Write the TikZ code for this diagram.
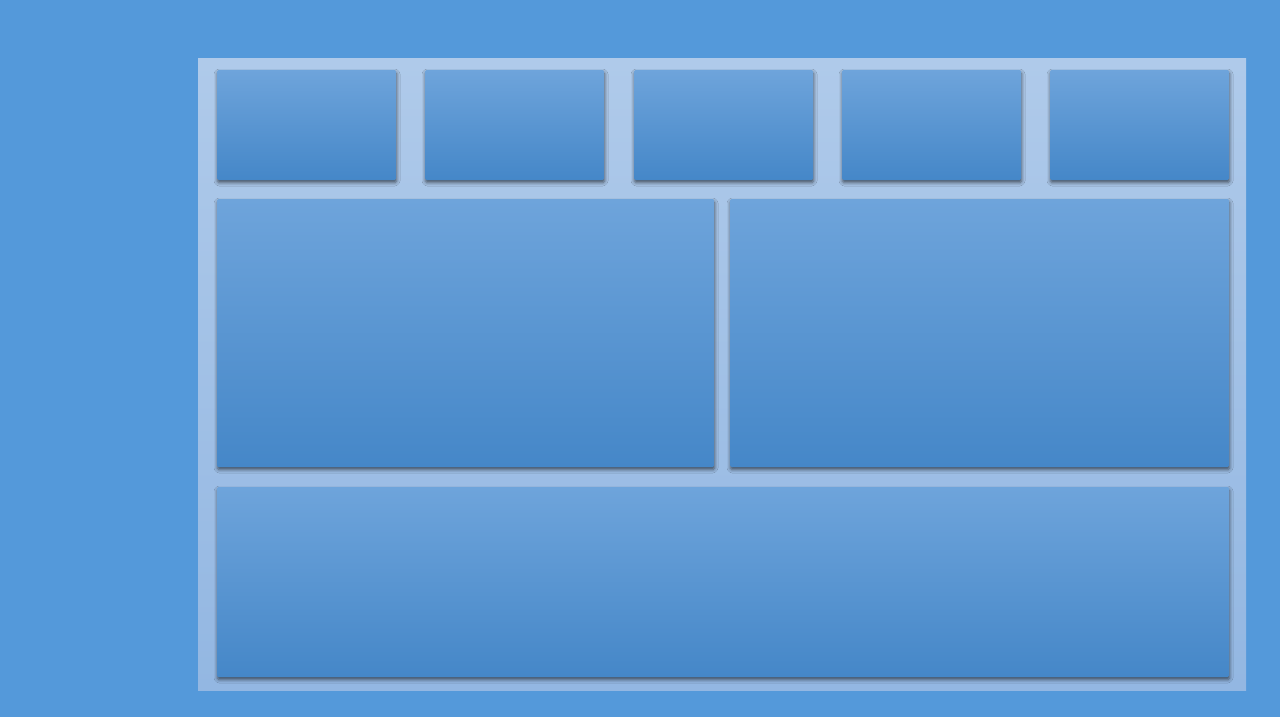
\documentclass[tikz,border=0pt]{standalone}
\usetikzlibrary{shadows.blur}
\definecolor{bgblue}{HTML}{5499DA}
\definecolor{paneltop}{HTML}{AFCAEA}
\definecolor{panelbot}{HTML}{93B7E2}
\definecolor{cardtop}{HTML}{6EA4DB}
\definecolor{cardmid}{HTML}{559CE0}
\definecolor{cardbot}{HTML}{4587C8}
\tikzset{
  card/.style={rectangle, anchor=north west, inner sep=0pt, outer sep=0pt,
    rounded corners=1.5pt, top color=cardtop, middle color=cardmid, bottom color=cardbot,
    blur shadow={shadow xshift=0.5pt, shadow yshift=-2.5pt, shadow blur radius=3.5pt, shadow opacity=60}},
  panel/.style={rectangle, anchor=north west, inner sep=0pt, outer sep=0pt,
    top color=paneltop, bottom color=panelbot}
}
\begin{document}
\begin{tikzpicture}[x=1pt,y=-1pt]
\fill[bgblue] (0,0) rectangle (1280,717);
\useasboundingbox (0,0) rectangle (1280,717);
\node[panel, minimum width=1048pt, minimum height=631pt] (panel) at (198,59) {};
% top row
\node[card, minimum width=179pt, minimum height=110pt] (t1) at (217,70) {};
\node[card, minimum width=179pt, minimum height=110pt] (t2) at (425,70) {};
\node[card, minimum width=179pt, minimum height=110pt] (t3) at (634,70) {};
\node[card, minimum width=179pt, minimum height=110pt] (t4) at (842,70) {};
\node[card, minimum width=179pt, minimum height=110pt] (t5) at (1050,70) {};
% middle row
\node[card, minimum width=497pt, minimum height=268pt] (m1) at (217,199) {};
\node[card, minimum width=499pt, minimum height=268pt] (m2) at (730,199) {};
% bottom
\node[card, minimum width=1012pt, minimum height=190pt] (b1) at (217,487) {};
\end{tikzpicture}
\end{document}
